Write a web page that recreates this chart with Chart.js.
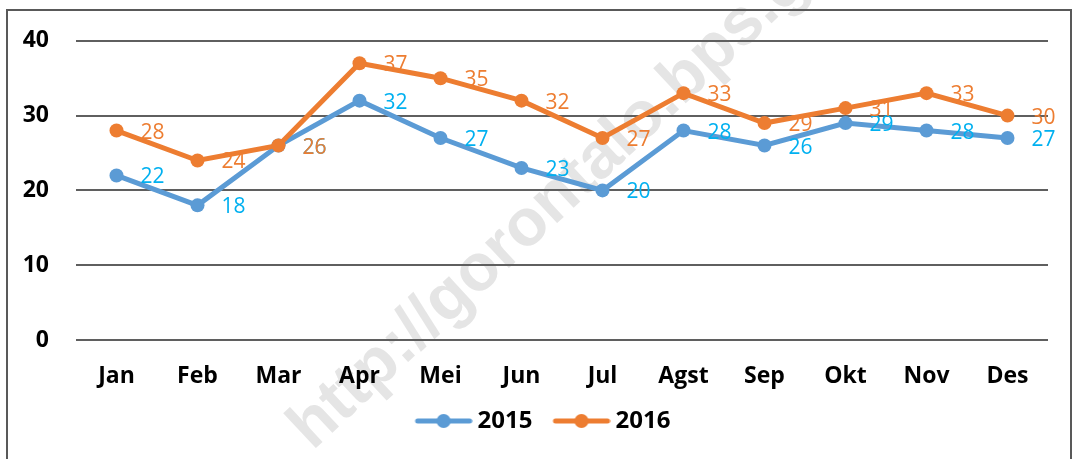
<!DOCTYPE html>
<html>
<head>
<meta charset="utf-8">
<script src="https://cdn.jsdelivr.net/npm/chart.js@4.4.0/dist/chart.umd.min.js"></script>
<style>
  html, body { margin: 0; padding: 0; background: #fff; }
  canvas { display: block; }
</style>
</head>
<body>
<canvas id="lineChart" width="1073" height="459"></canvas>
<script>
// Monthly values, 2015 vs 2016
const months = ['Jan', 'Feb', 'Mar', 'Apr', 'Mei', 'Jun', 'Jul', 'Agst', 'Sep', 'Okt', 'Nov', 'Des'];
const values2015 = [22, 18, 26, 32, 27, 23, 20, 28, 26, 29, 28, 27];
const values2016 = [28, 24, 26, 37, 35, 32, 27, 33, 29, 31, 33, 30];
const yTicks = [0, 10, 20, 30, 40];

const BLUE = '#5B9BD5';
const ORANGE = '#ED7D31';
const FONT = "'Open Sans', 'Noto Sans', sans-serif";

// legend marker: short line with a dot in the middle
// (left part of the canvas is left empty to space the items)
function makeMarker(color) {
    const c = document.createElement('canvas');
    c.width = 68;
    c.height = 16;
    const g = c.getContext('2d');
    g.strokeStyle = color;
    g.lineWidth = 5;
    g.lineCap = 'round';
    g.beginPath();
    g.moveTo(13, 8);
    g.lineTo(65, 8);
    g.stroke();
    g.fillStyle = color;
    g.beginPath();
    g.arc(39, 8, 7, 0, Math.PI * 2);
    g.fill();
    return c;
}

// faint diagonal watermark behind the chart
const watermark = {
    id: 'watermark',
    beforeDraw(chart) {
        const ctx = chart.ctx;
        ctx.save();
        ctx.translate(300, 438);
        ctx.rotate(-43 * Math.PI / 180);
        ctx.font = "bold 66px 'Liberation Sans', Arial, sans-serif";
        ctx.fillStyle = '#e5e5e5';
        ctx.textAlign = 'left';
        ctx.textBaseline = 'middle';
        ctx.fillText('http://gorontalo.bps.go.id', 0, 0);
        ctx.restore();
    }
};

// outer frame of the chart
const frame = {
    id: 'frame',
    afterDraw(chart) {
        const ctx = chart.ctx;
        ctx.save();
        ctx.strokeStyle = '#595959';
        ctx.lineWidth = 2;
        ctx.strokeRect(7, 10, 1064, 470);
        ctx.restore();
    }
};

// nudge the legend a little to the right, like the original
const legendShift = {
    id: 'legendShift',
    afterLayout(chart) {
        if (chart.legend) {
            chart.legend.left += 6;
            chart.legend.right += 6;
        }
    }
};

// value labels to the right of each point
const valueLabels = {
    id: 'valueLabels',
    afterDatasetsDraw(chart) {
        const ctx = chart.ctx;
        ctx.save();
        ctx.font = '21px ' + FONT;
        ctx.textAlign = 'left';
        ctx.textBaseline = 'middle';
        chart.data.datasets.forEach((ds, i) => {
            const meta = chart.getDatasetMeta(i);
            ctx.fillStyle = ds.labelColor;
            meta.data.forEach((pt, j) => {
                ctx.fillText(String(ds.data[j]), pt.x + 24, pt.y + 2);
            });
        });
        ctx.restore();
    }
};

const ctx = document.getElementById('lineChart');
new Chart(ctx, {
    type: 'line',
    data: {
        labels: months,
        datasets: [{
            label: '2015',
            data: values2015,
            borderColor: BLUE,
            backgroundColor: BLUE,
            labelColor: '#00B0F0',
            borderWidth: 5,
            pointRadius: 7,
            pointBackgroundColor: BLUE,
            pointBorderWidth: 0,
            tension: 0,
            order: 2
        }, {
            label: '2016',
            data: values2016,
            borderColor: ORANGE,
            backgroundColor: ORANGE,
            labelColor: ORANGE,
            borderWidth: 5,
            pointRadius: 7,
            pointBackgroundColor: ORANGE,
            pointBorderWidth: 0,
            tension: 0,
            order: 1
        }]
    },
    options: {
        responsive: false,
        animation: false,
        layout: {
            padding: { left: 22, right: 25, top: 39, bottom: 16 }
        },
        plugins: {
            tooltip: { enabled: false },
            legend: {
                display: true,
                position: 'bottom',
                labels: {
                    usePointStyle: true,
                    pointStyleWidth: 54,
                    padding: 17,
                    color: '#000',
                    font: { family: FONT, size: 24, weight: 'bold' },
                    generateLabels: function(chart) {
                        return chart.data.datasets.map((ds, i) => ({
                            text: ds.label,
                            pointStyle: makeMarker(ds.borderColor),
                            fillStyle: ds.borderColor,
                            strokeStyle: ds.borderColor,
                            lineWidth: 0,
                            hidden: false,
                            fontColor: '#000',
                            datasetIndex: i
                        }));
                    }
                }
            }
        },
        scales: {
            y: {
                min: 0,
                max: 40,
                afterBuildTicks: function(scale) {
                    scale.ticks = yTicks.map(v => ({ value: v }));
                },
                afterFit: function(scale) {
                    scale.width = 54;
                },
                border: { display: false },
                grid: {
                    color: '#5f5f5f',
                    lineWidth: 2,
                    drawTicks: false
                },
                ticks: {
                    padding: 27,
                    color: '#000',
                    font: { family: FONT, size: 23, weight: 'bold' }
                }
            },
            x: {
                offset: true,
                afterFit: function(scale) {
                    scale.height = 52;
                },
                border: { display: false },
                grid: { display: false, drawTicks: false },
                ticks: {
                    padding: 23,
                    color: '#000',
                    font: { family: FONT, size: 23, weight: 'bold' }
                }
            }
        }
    },
    plugins: [watermark, valueLabels, legendShift, frame]
});
</script>
</body>
</html>
